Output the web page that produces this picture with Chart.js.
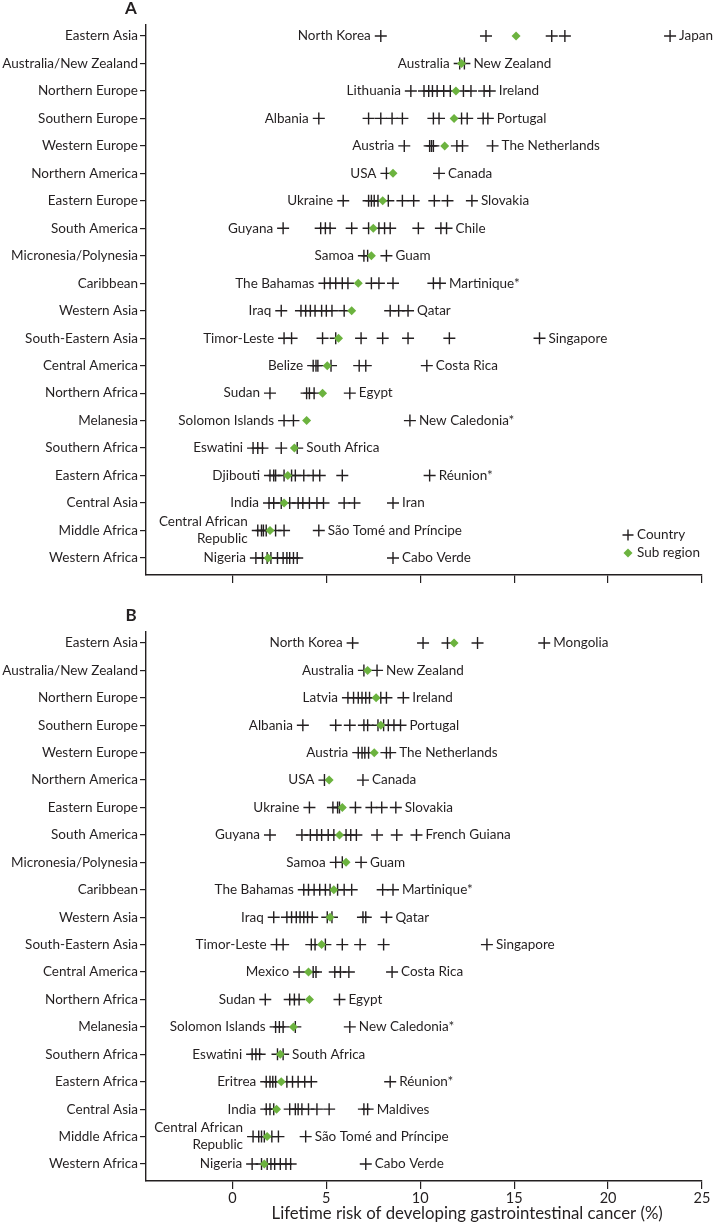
<!DOCTYPE html>
<html>
<head>
<meta charset="utf-8">
<title>Lifetime risk of gastrointestinal cancer by sub region</title>
<script src="https://cdn.jsdelivr.net/npm/chart.js@4.4.1/dist/chart.umd.min.js"></script>
<style>
    html, body { margin: 0; padding: 0; background: #fff; }
    canvas { display: block; }
</style>
</head>
<body>
<canvas id="chartA" width="715" height="600"></canvas>
<canvas id="chartB" width="715" height="626"></canvas>
<script>
// Sub regions, top to bottom
const regions = [
    'Eastern Asia', 'Australia/New Zealand', 'Northern Europe', 'Southern Europe',
    'Western Europe', 'Northern America', 'Eastern Europe', 'South America',
    'Micronesia/Polynesia', 'Caribbean', 'Western Asia', 'South-Eastern Asia',
    'Central America', 'Northern Africa', 'Melanesia', 'Southern Africa',
    'Eastern Africa', 'Central Asia', 'Middle Africa', 'Western Africa'
];

const xTicks = [0, 5, 10, 15, 20, 25];
const xTitle = 'Lifetime risk of developing gastrointestinal cancer (%)';

// Panel A - country values (%) per sub region
const countryRiskA = [
    [7.9, 13.5, 17.0, 17.7, 23.3],
    [12.1, 12.35],
    [9.5, 10.2, 10.45, 10.65, 10.9, 11.25, 11.6, 12.3, 12.7, 13.4, 13.7],
    [4.6, 7.25, 7.9, 8.5, 9.05, 10.7, 11.0, 12.2, 12.5, 13.35, 13.6],
    [9.15, 10.5, 10.6, 10.7, 11.95, 12.25, 13.85],
    [8.2, 11.0],
    [5.9, 7.25, 7.4, 7.55, 7.75, 8.3, 9.05, 9.65, 10.75, 11.45, 12.75],
    [2.7, 4.7, 4.95, 5.2, 6.35, 7.25, 7.8, 8.1, 8.4, 9.9, 11.1, 11.4],
    [7.0, 7.2, 8.2],
    [4.9, 5.2, 5.5, 5.85, 6.15, 7.4, 7.8, 8.55, 10.7, 11.05],
    [2.6, 3.65, 3.9, 4.15, 4.4, 4.75, 5.0, 5.3, 5.95, 8.4, 8.85, 9.35],
    [2.75, 3.15, 4.8, 5.5, 6.85, 8.0, 9.35, 11.55, 16.35],
    [4.3, 4.45, 4.55, 5.25, 6.75, 7.1, 10.35],
    [2.0, 3.95, 4.1, 4.35, 6.25],
    [2.75, 3.25, 9.45],
    [1.1, 1.35, 1.6, 2.6, 3.45],
    [2.0, 2.2, 2.3, 2.75, 3.15, 3.35, 3.8, 4.3, 4.65, 5.85, 10.5],
    [1.95, 2.2, 2.6, 3.05, 3.5, 3.75, 4.1, 4.5, 4.85, 5.95, 6.5, 8.55],
    [1.35, 1.55, 1.65, 1.8, 2.3, 2.75, 4.6],
    [1.25, 1.6, 1.85, 2.05, 2.4, 2.7, 2.9, 3.05, 3.25, 3.45, 8.55]
];
const subRegionRiskA = [15.1, 12.2, 11.9, 11.8, 11.3, 8.55, 8.0, 7.5, 7.4, 6.7,
                        6.35, 5.65, 5.05, 4.8, 3.95, 3.3, 2.95, 2.75, 2.0, 1.9];
const lowestA = ['North Korea', 'Australia', 'Lithuania', 'Albania', 'Austria', 'USA',
                 'Ukraine', 'Guyana', 'Samoa', 'The Bahamas', 'Iraq', 'Timor-Leste',
                 'Belize', 'Sudan', 'Solomon Islands', 'Eswatini', 'Djibouti', 'India',
                 'Central African\nRepublic', 'Nigeria'];
const highestA = ['Japan', 'New Zealand', 'Ireland', 'Portugal', 'The Netherlands', 'Canada',
                  'Slovakia', 'Chile', 'Guam', 'Martinique*', 'Qatar', 'Singapore',
                  'Costa Rica', 'Egypt', 'New Caledonia*', 'South Africa', 'Réunion*', 'Iran',
                  'São Tomé and Príncipe', 'Cabo Verde'];

// Panel B - country values (%) per sub region
const countryRiskB = [
    [6.4, 10.15, 11.45, 13.05, 16.6],
    [7.0, 7.7],
    [6.15, 6.45, 6.7, 6.9, 7.1, 7.3, 7.9, 8.2, 9.1],
    [3.75, 5.5, 6.25, 7.0, 7.2, 7.75, 8.05, 8.3, 8.6, 8.95],
    [6.7, 6.9, 7.05, 7.25, 8.2, 8.4],
    [4.9, 6.95],
    [4.1, 5.35, 5.6, 5.7, 6.55, 7.4, 7.95, 8.7],
    [2.0, 3.7, 4.15, 4.5, 4.75, 5.1, 5.4, 6.05, 6.3, 6.6, 7.7, 8.75, 9.8],
    [5.5, 5.85, 6.85],
    [3.8, 4.05, 4.35, 4.65, 4.95, 5.2, 5.6, 5.95, 6.35, 8.0, 8.55],
    [2.2, 2.9, 3.15, 3.4, 3.6, 3.8, 4.0, 4.25, 5.05, 5.3, 6.95, 7.1, 8.2],
    [2.35, 2.7, 4.2, 4.4, 4.95, 5.85, 6.8, 8.05, 13.55],
    [3.55, 4.3, 4.45, 5.45, 5.75, 6.2, 8.5],
    [1.75, 3.05, 3.3, 3.55, 5.7],
    [2.3, 2.5, 2.7, 3.35, 6.25],
    [1.05, 1.25, 1.45, 2.4, 2.7],
    [1.8, 2.0, 2.15, 2.3, 2.9, 3.2, 3.5, 3.85, 4.2, 8.4],
    [1.8, 2.0, 2.2, 3.05, 3.35, 3.5, 3.7, 4.05, 4.5, 5.15, 7.0, 7.2],
    [1.1, 1.4, 1.55, 1.7, 2.1, 2.45, 3.9],
    [1.05, 1.55, 1.85, 2.05, 2.25, 2.55, 2.85, 3.1, 7.1]
];
const subRegionRiskB = [11.8, 7.2, 7.65, 7.9, 7.55, 5.15, 5.85, 5.7, 6.05, 5.4,
                        5.2, 4.75, 4.05, 4.1, 3.25, 2.55, 2.6, 2.35, 1.85, 1.7];
const lowestB = ['North Korea', 'Australia', 'Latvia', 'Albania', 'Austria', 'USA',
                 'Ukraine', 'Guyana', 'Samoa', 'The Bahamas', 'Iraq', 'Timor-Leste',
                 'Mexico', 'Sudan', 'Solomon Islands', 'Eswatini', 'Eritrea', 'India',
                 'Central African\nRepublic', 'Nigeria'];
const highestB = ['Mongolia', 'New Zealand', 'Ireland', 'Portugal', 'The Netherlands', 'Canada',
                  'Slovakia', 'French Guiana', 'Guam', 'Martinique*', 'Qatar', 'Singapore',
                  'Costa Rica', 'Egypt', 'New Caledonia*', 'South Africa', 'Réunion*', 'Maldives',
                  'São Tomé and Príncipe', 'Cabo Verde'];

const ink = '#231f20';
const green = '#6cb33f';
const fontFamily = "Lato, 'Noto Sans', sans-serif";
const labelSize = 13.5;

// Names next to the lowest and highest country of each row
const countryLabels = {
    id: 'countryLabels',
    afterDatasetsDraw(chart, args, opts) {
        const ctx = chart.ctx;
        const xs = chart.scales.x, ys = chart.scales.y;
        ctx.save();
        ctx.font = labelSize + 'px ' + fontFamily;
        ctx.fillStyle = ink;
        ctx.textBaseline = 'middle';
        opts.rows.forEach((vals, i) => {
            const py = ys.getPixelForValue(i);
            const lo = xs.getPixelForValue(Math.min(...vals));
            const hi = xs.getPixelForValue(Math.max(...vals));
            const lines = opts.low[i].split('\n');
            ctx.textAlign = 'right';
            lines.forEach((line, k) => {
                ctx.fillText(line, lo - 10, py + (k - (lines.length - 1) / 2) * 17);
            });
            ctx.textAlign = 'left';
            ctx.fillText(opts.high[i], hi + 9, py);
        });
        ctx.restore();
    }
};

// Panel letter, axis title (centred on the 0-25 range) and the key
const panelExtras = {
    id: 'panelExtras',
    afterDraw(chart, args, opts) {
        const ctx = chart.ctx;
        const area = chart.chartArea;
        const xs = chart.scales.x;
        ctx.save();
        ctx.fillStyle = ink;
        ctx.font = 'bold 17px ' + fontFamily;
        ctx.textAlign = 'center';
        ctx.textBaseline = 'middle';
        ctx.fillText(opts.tag, area.left - 15, area.top - 16.5);

        if (opts.title) {
            ctx.font = '16.8px ' + fontFamily;
            const mid = (xs.getPixelForValue(xTicks[0]) + xs.getPixelForValue(xTicks[xTicks.length - 1])) / 2;
            ctx.fillText(opts.title, mid, area.bottom + 33);
        }

        if (opts.key) {
            const kx = area.right - 74;
            const y1 = area.bottom - 40, y2 = area.bottom - 22;
            ctx.strokeStyle = ink;
            ctx.lineWidth = 1.4;
            ctx.beginPath();
            ctx.moveTo(kx - 5.5, y1); ctx.lineTo(kx + 5.5, y1);
            ctx.moveTo(kx, y1 - 5.5); ctx.lineTo(kx, y1 + 5.5);
            ctx.stroke();
            ctx.fillStyle = green;
            ctx.beginPath();
            ctx.moveTo(kx, y2 - 4.5); ctx.lineTo(kx + 4.5, y2);
            ctx.lineTo(kx, y2 + 4.5); ctx.lineTo(kx - 4.5, y2);
            ctx.closePath();
            ctx.fill();
            ctx.fillStyle = ink;
            ctx.font = labelSize + 'px ' + fontFamily;
            ctx.textAlign = 'left';
            ctx.fillText('Country', kx + 9, y1);
            ctx.fillText('Sub region', kx + 9, y2);
        }
        ctx.restore();
    }
};

function toPoints(rows) {
    return rows.flatMap((vals, i) => vals.map(v => ({ x: v, y: i })));
}

function makePanel(canvasId, tag, rows, subs, low, high, isBottom) {
    return new Chart(document.getElementById(canvasId), {
        type: 'scatter',
        data: {
            datasets: [
                {
                    label: 'Sub region',
                    data: subs.map((v, i) => ({ x: v, y: i })),
                    pointStyle: 'rectRot',
                    pointRadius: 4.5,
                    backgroundColor: green,
                    borderWidth: 0
                },
                {
                    label: 'Country',
                    data: toPoints(rows),
                    pointStyle: 'cross',
                    pointRadius: 6,
                    borderColor: ink,
                    borderWidth: 1.4
                }
            ]
        },
        plugins: [countryLabels, panelExtras],
        options: {
            responsive: false,
            animation: false,
            events: [],
            layout: { padding: { top: isBottom ? 32 : 25, right: 13, left: 0, bottom: 0 } },
            plugins: {
                legend: { display: false },
                tooltip: { enabled: false },
                countryLabels: { rows: rows, low: low, high: high },
                panelExtras: { tag: tag, key: !isBottom, title: isBottom ? xTitle : '' }
            },
            scales: {
                x: {
                    type: 'linear',
                    min: -4.6,
                    max: 25,
                    afterBuildTicks: s => { s.ticks = xTicks.map(v => ({ value: v })); },
                    afterFit: s => { s.height = isBottom ? 45 : 25; },
                    ticks: {
                        display: isBottom,
                        color: ink,
                        font: { family: fontFamily, size: 14.5 },
                        padding: 1,
                        maxRotation: 0
                    },
                    grid: { drawOnChartArea: false, drawTicks: true, tickLength: 8, color: ink, lineWidth: 1.2 },
                    border: { color: ink, width: 1.4 }
                },
                y: {
                    type: 'linear',
                    reverse: true,
                    min: -0.4,
                    max: 19.62,
                    afterBuildTicks: s => { s.ticks = regions.map((r, i) => ({ value: i })); },
                    afterFit: s => { s.width = 146; },
                    ticks: {
                        autoSkip: false,
                        color: ink,
                        font: { family: fontFamily, size: labelSize },
                        padding: 2,
                        callback: v => regions[v]
                    },
                    grid: { drawOnChartArea: false, drawTicks: true, tickLength: 6, color: ink, lineWidth: 1.2 },
                    border: { color: ink, width: 1.4 }
                }
            }
        }
    });
}

makePanel('chartA', 'A', countryRiskA, subRegionRiskA, lowestA, highestA, false);
makePanel('chartB', 'B', countryRiskB, subRegionRiskB, lowestB, highestB, true);
</script>
</body>
</html>
